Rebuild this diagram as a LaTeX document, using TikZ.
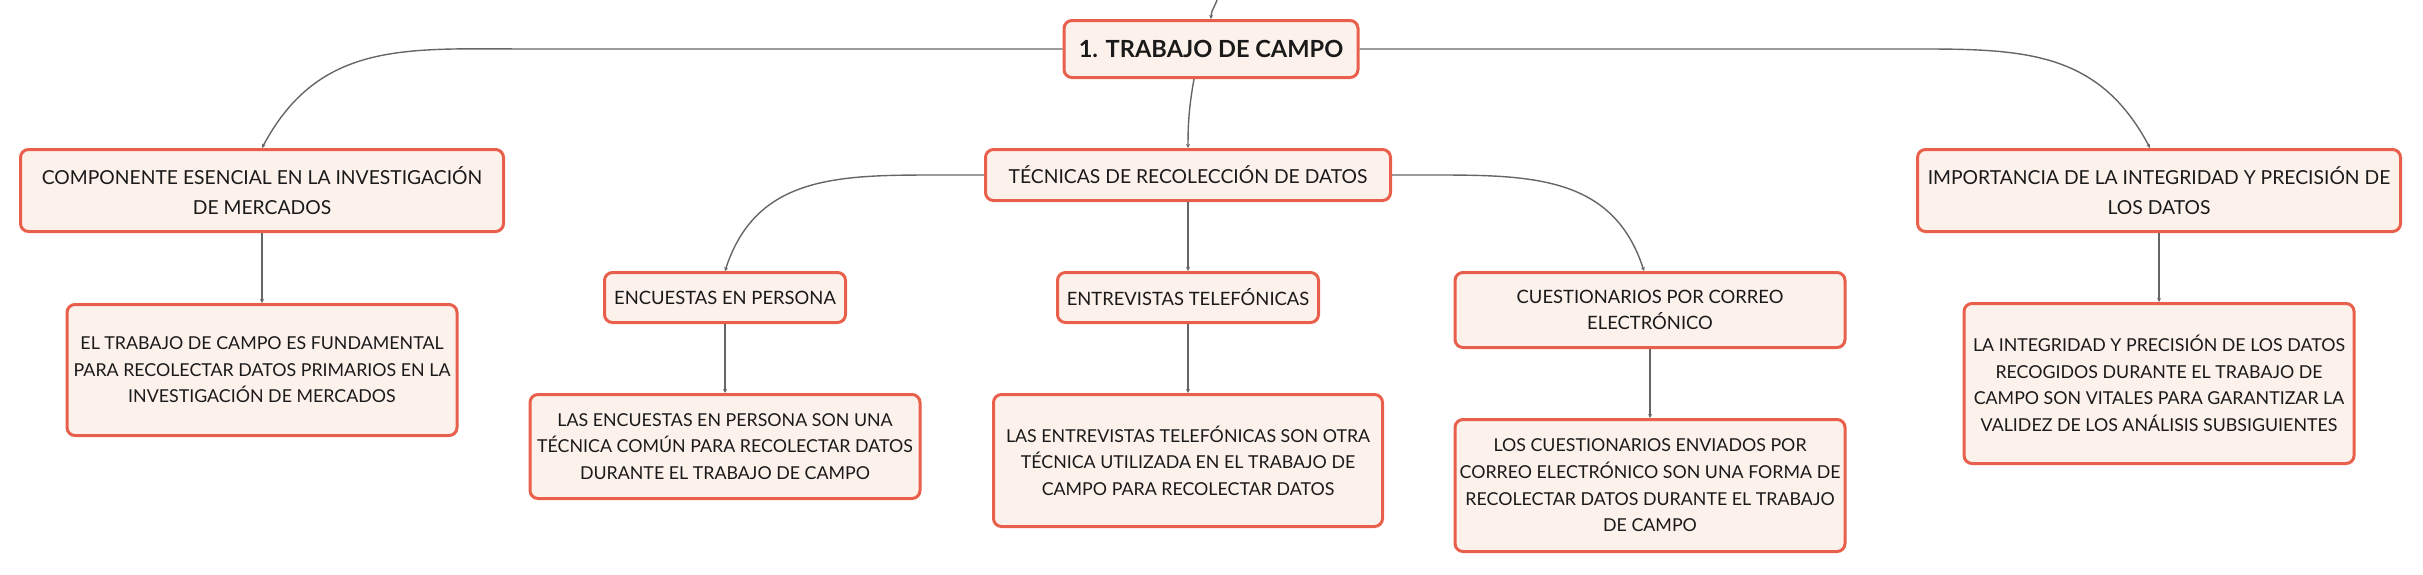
\documentclass[tikz,border=0pt]{standalone}
\usepackage{fontspec}
\setmainfont{Lato}
\usetikzlibrary{arrows.meta}

\definecolor{boxred}{HTML}{E8604C}
\definecolor{boxfill}{HTML}{FDF1EC}
\definecolor{linkgray}{HTML}{666666}
\definecolor{inkblack}{HTML}{1A1A1A}

\tikzset{
    topic/.style={draw=boxred, fill=boxfill, line width=1.5pt, rounded corners=4pt,
        align=center, text=inkblack, inner sep=0pt},
    roottopic/.style={topic, font=\fontsize{11.8}{14}\selectfont\bfseries},
    maintopic/.style={topic, font=\fontsize{9.65}{15}\selectfont},
    subtopic/.style={topic, font=\fontsize{9.2}{13.3}\selectfont},
    note/.style={topic, font=\fontsize{8.9}{13.3}\selectfont},
    link/.style={draw=linkgray, line width=0.7pt, -{Stealth[length=2pt,width=2pt]}}
}

\begin{document}
\begin{tikzpicture}[x=0.5pt, y=-0.5pt]
    \useasboundingbox (0,0) rectangle (2423,574);

    \node (root) [roottopic, minimum width=147pt, minimum height=28.5pt] at (1211,49) {1. TRABAJO DE CAMPO};

    \node (comp) [maintopic, minimum width=241.5pt, minimum height=41pt] at (262,190.5)
        {COMPONENTE ESENCIAL EN LA INVESTIGACIÓN\\DE MERCADOS};
    \node (compd) [note, minimum width=195pt, minimum height=65.5pt, below of=comp, node distance=89.75pt]
        {EL TRABAJO DE CAMPO ES FUNDAMENTAL\\PARA RECOLECTAR DATOS PRIMARIOS EN LA\\INVESTIGACIÓN DE MERCADOS};

    \node (tec) [maintopic, minimum width=202.5pt, minimum height=25.5pt] at (1188,175)
        {TÉCNICAS DE RECOLECCIÓN DE DATOS};
    \node (enc) [subtopic, minimum width=120.5pt, minimum height=25pt] at (725,297.5)
        {ENCUESTAS EN PERSONA};
    \node (encd) [note, minimum width=195pt, minimum height=52pt, below of=enc, node distance=74.5pt]
        {LAS ENCUESTAS EN PERSONA SON UNA\\TÉCNICA COMÚN PARA RECOLECTAR DATOS\\DURANTE EL TRABAJO DE CAMPO};
    \node (ent) [subtopic, minimum width=130.5pt, minimum height=25pt, below of=tec, node distance=61.25pt]
        {ENTREVISTAS TELEFÓNICAS};
    \node (entd) [note, minimum width=194.5pt, minimum height=66pt, below of=ent, node distance=81.5pt]
        {LAS ENTREVISTAS TELEFÓNICAS SON OTRA\\TÉCNICA UTILIZADA EN EL TRABAJO DE\\CAMPO PARA RECOLECTAR DATOS};
    \node (cue) [subtopic, minimum width=195pt, minimum height=37.5pt] at (1650,310)
        {CUESTIONARIOS POR CORREO\\ELECTRÓNICO};
    \node (cued) [note, minimum width=195pt, minimum height=66pt, below of=cue, node distance=87.75pt]
        {LOS CUESTIONARIOS ENVIADOS POR\\CORREO ELECTRÓNICO SON UNA FORMA DE\\RECOLECTAR DATOS DURANTE EL TRABAJO\\DE CAMPO};

    \node (imp) [maintopic, minimum width=241.5pt, minimum height=41pt] at (2159,190.5)
        {IMPORTANCIA DE LA INTEGRIDAD Y PRECISIÓN DE\\LOS DATOS};
    \node (impd) [note, minimum width=195pt, minimum height=80pt, below of=imp, node distance=96.5pt]
        {LA INTEGRIDAD Y PRECISIÓN DE LOS DATOS\\RECOGIDOS DURANTE EL TRABAJO DE\\CAMPO SON VITALES PARA GARANTIZAR LA\\VALIDEZ DE LOS ANÁLISIS SUBSIGUIENTES};

    % bends of the curved links
    \coordinate (up) at (1218,-4);
    \coordinate (lbend) at (530,49);
    \coordinate (rbend) at (1925,49);
    \coordinate (tlbend) at (942,175);
    \coordinate (trbend) at (1436,175);

    \draw[link] (up) to[out=-100,in=90] (root.north);
    \draw[link] (root.west) -- (lbend) to[out=180,in=62,looseness=1.1] (comp.north);
    \draw[link] (root.east) -- (rbend) to[out=0,in=118,looseness=1.1] ([xshift=-4.5pt]imp.north);
    \draw[link] ([xshift=-8.5pt]root.south) to[out=-100,in=90] (tec.north);
    \draw[link] (tec.west) -- (tlbend) to[out=180,in=72,looseness=1.1] (enc.north);
    \draw[link] (tec.east) -- (trbend) to[out=0,in=108,looseness=1.1] ([xshift=-3pt]cue.north);

    \path
    (comp) edge[link] (compd)
    (tec) edge[link] (ent)
    (enc) edge[link] (encd)
    (ent) edge[link] (entd)
    (cue) edge[link] (cued)
    (imp) edge[link] (impd);
\end{tikzpicture}
\end{document}
